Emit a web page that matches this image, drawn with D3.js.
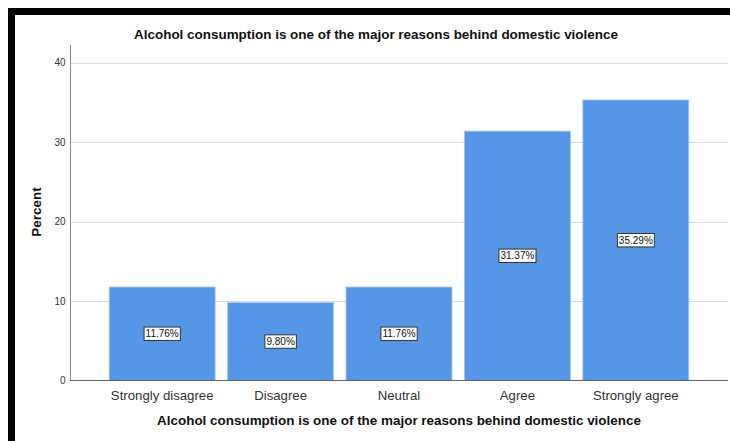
<!DOCTYPE html>
<html>
<head>
<meta charset="utf-8">
<script src="https://cdn.jsdelivr.net/npm/d3@7"></script>
<style>
  html, body { margin: 0; padding: 0; background: #fff; }
  svg { display: block; }
  text { font-family: "Liberation Sans", Arial, sans-serif; }
</style>
</head>
<body>
<svg id="chart" width="730" height="441"></svg>
<script>
const categories = ["Strongly disagree", "Disagree", "Neutral", "Agree", "Strongly agree"];
const percents = [11.76, 9.80, 11.76, 31.37, 35.29];
const yTicks = [0, 10, 20, 30, 40];
const chartTitle = "Alcohol consumption is one of the major reasons behind domestic violence";
const xTitle = "Alcohol consumption is one of the major reasons behind domestic violence";
const yTitle = "Percent";

const svg = d3.select("#chart");

// frame
svg.append("rect").attr("x", 8).attr("y", 8).attr("width", 7).attr("height", 433).attr("fill", "#000");
svg.append("rect").attr("x", 8).attr("y", 8).attr("width", 722).attr("height", 7).attr("fill", "#000");

const x = d3.scaleBand().domain(categories).range([70, 728]).paddingInner(0.105).paddingOuter(0.331);
const y = d3.scaleLinear().domain([0, 40]).range([380.5, 62.5]);

// gridlines
svg.append("g").selectAll("line").data(yTicks.filter(d => d > 0)).join("line")
  .attr("x1", 71).attr("x2", 728)
  .attr("y1", d => Math.round(y(d)) + 0.5).attr("y2", d => Math.round(y(d)) + 0.5)
  .attr("stroke", "#d9d9d9").attr("stroke-width", 1);

// bars
svg.append("g").selectAll("rect").data(percents).join("rect")
  .attr("x", (d, i) => x(categories[i]))
  .attr("y", d => y(d))
  .attr("width", x.bandwidth())
  .attr("height", d => y(0) - y(d))
  .attr("fill", "#5596e6")
  .attr("stroke", "#a9c8f0").attr("stroke-width", 0.8);

// y axis
const yAxis = d3.axisLeft(y).tickValues(yTicks).tickSize(0).tickPadding(5).tickFormat(d3.format("d"));
const gy = svg.append("g").attr("transform", "translate(70.5,0)").call(yAxis);
gy.select(".domain").remove();
gy.selectAll("text").attr("font-size", 10).attr("fill", "#333").attr("font-family", "Liberation Sans, Arial, sans-serif");
svg.append("line").attr("x1", 70.5).attr("x2", 70.5).attr("y1", 45).attr("y2", 381).attr("stroke", "#888");

// x axis
const xAxis = d3.axisBottom(x).tickSize(0).tickPadding(10);
const gx = svg.append("g").attr("transform", "translate(0,380.5)").call(xAxis);
gx.select(".domain").remove();
gx.selectAll("text").attr("font-size", 13.2).attr("fill", "#333").attr("font-family", "Liberation Sans, Arial, sans-serif");
svg.append("line").attr("x1", 70).attr("x2", 728).attr("y1", 380.5).attr("y2", 380.5).attr("stroke", "#666");

// value labels
const lab = svg.append("g").selectAll("g").data(percents).join("g")
  .attr("transform", (d, i) => `translate(${x(categories[i]) + x.bandwidth() / 2},${y(d / 2)})`);
lab.append("text")
  .attr("text-anchor", "middle").attr("dy", "0.35em")
  .attr("font-size", 10).attr("fill", "#111")
  .text(d => d.toFixed(2) + "%");
lab.each(function () {
  const g = d3.select(this);
  const bb = g.select("text").node().getBBox();
  g.insert("rect", "text")
    .attr("x", bb.x - 1.5).attr("y", bb.y - 1.2)
    .attr("width", bb.width + 3).attr("height", bb.height + 2.4)
    .attr("fill", "#fff").attr("stroke", "#333").attr("stroke-width", 1);
});

// titles
svg.append("text").attr("x", 376).attr("y", 39).attr("text-anchor", "middle")
  .attr("font-size", 13.45).attr("font-weight", "bold").attr("fill", "#111").text(chartTitle);
svg.append("text").attr("x", 399).attr("y", 425).attr("text-anchor", "middle")
  .attr("font-size", 13.45).attr("font-weight", "bold").attr("fill", "#111").text(xTitle);
svg.append("text").attr("transform", "translate(41,212) rotate(-90)").attr("text-anchor", "middle")
  .attr("font-size", 13.45).attr("font-weight", "bold").attr("fill", "#111").text(yTitle);
</script>
</body>
</html>
